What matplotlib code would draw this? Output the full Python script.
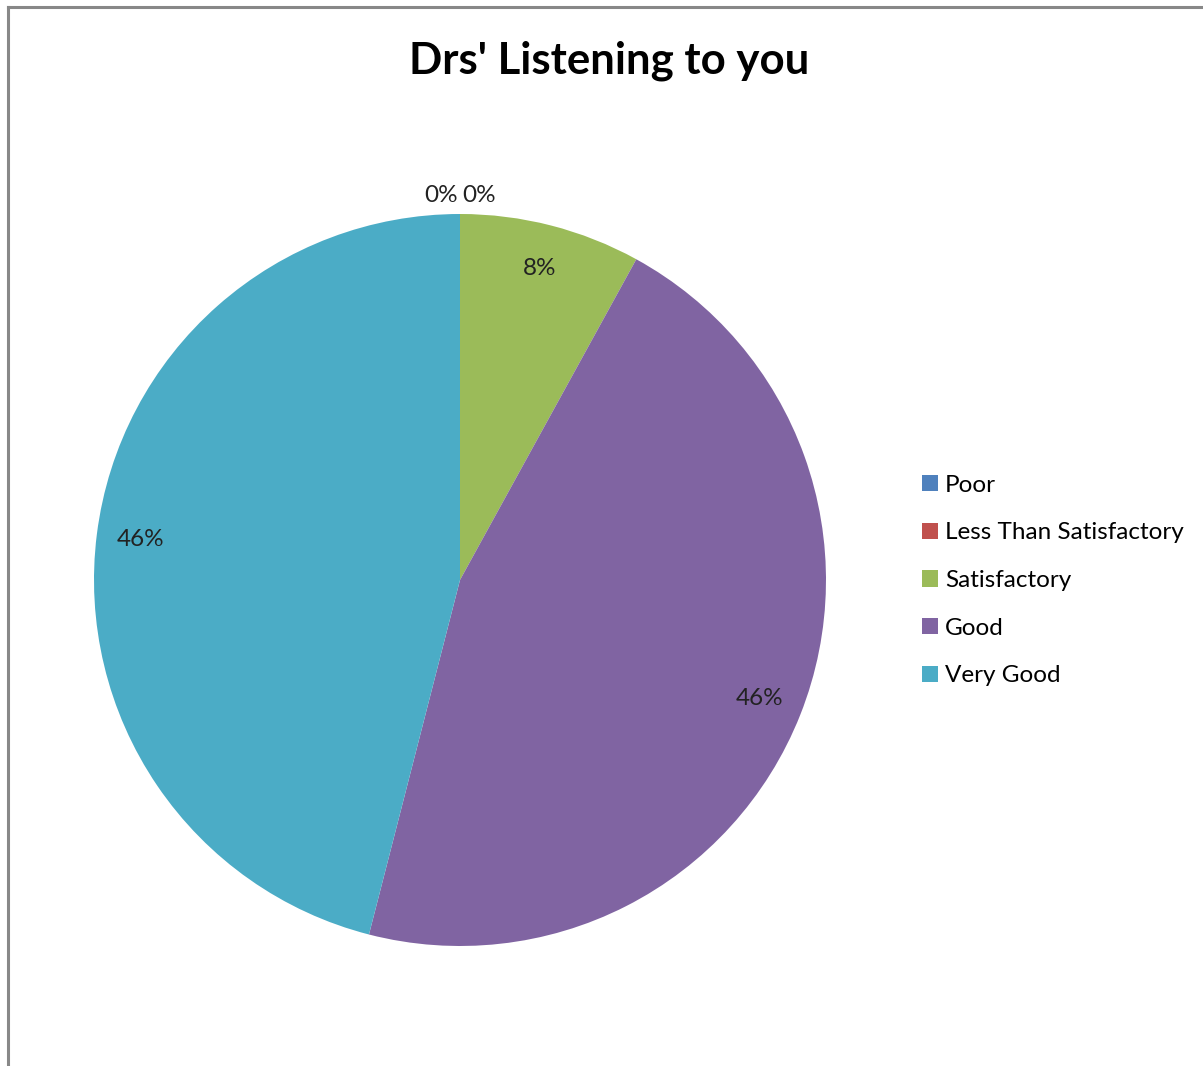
import matplotlib.pyplot as plt
from matplotlib.lines import Line2D
import numpy as np

plt.rcParams['font.family'] = ['Lato', 'DejaVu Sans']

categories = ['Poor', 'Less Than Satisfactory', 'Satisfactory', 'Good', 'Very Good']
percentages = [0, 0, 8, 46, 46]
colors = ['#4F81BD', '#C0504D', '#9BBB59', '#8064A2', '#4BACC6']

W, H = 1203, 1066
fig = plt.figure(figsize=(W / 100, H / 100), dpi=100)

# chart area border (only left and top edges are visible)
fig.add_artist(Line2D([8 / W, 8 / W], [0, 1 - 7 / H], transform=fig.transFigure,
                      color='#888888', lw=2.2))
fig.add_artist(Line2D([8 / W, 1], [1 - 7 / H, 1 - 7 / H], transform=fig.transFigure,
                      color='#888888', lw=2.2))

cx, cy, r = 460, 580, 366
ax = fig.add_axes([(cx - r) / W, (H - cy - r) / H, 2 * r / W, 2 * r / H])

wedges, texts, autotexts = ax.pie(
    percentages, colors=colors, startangle=90, counterclock=False,
    autopct='%1.0f%%', pctdistance=0.88, radius=1,
    wedgeprops=dict(linewidth=0),
    textprops=dict(fontsize=17.5, color='#222222'))
ax.set_xlim(-1, 1)
ax.set_ylim(-1, 1)
ax.set_aspect('equal')

# zero-size slices get their labels just outside the top of the pie
zero_idx = [i for i, v in enumerate(percentages) if v == 0]
for k, i in enumerate(zero_idx):
    t = autotexts[i]
    ang = np.deg2rad(wedges[i].theta1)
    side = -1 if k == 0 else 1
    t.set_position((np.cos(ang) + side * 0.005, np.sin(ang) * 1.05))
    t.set_ha('right' if side < 0 else 'left')
    t.set_va('center')

fig.text(0.506, 1 - 61 / H, "Drs' Listening to you", ha='center', va='center',
         fontsize=31.5, fontweight='bold')

fig.legend(wedges, categories, loc='center left',
           bbox_to_anchor=(922 / W, 1 - 580.5 / H), frameon=False,
           fontsize=17.5, handlelength=0.65, handleheight=0.65,
           handletextpad=0.3, labelspacing=1.1, borderpad=0, borderaxespad=0)

fig.savefig('out.png', dpi=100)
